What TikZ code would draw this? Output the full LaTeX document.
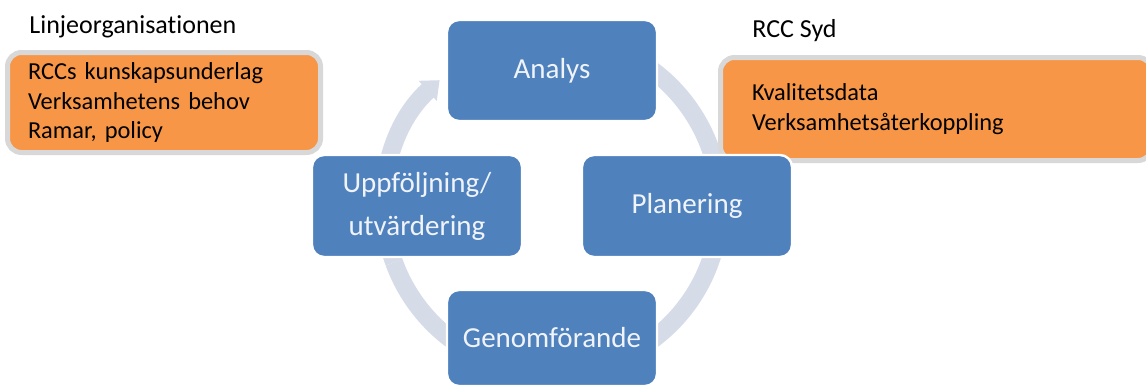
\documentclass[tikz,border=0pt]{standalone}
\usepackage{fontspec}
\setmainfont{Carlito}[Ligatures={NoCommon}]
\usetikzlibrary{arrows.meta}
\definecolor{boxblue}{RGB}{79,129,189}
\definecolor{boxorange}{RGB}{247,150,70}
\definecolor{ringgrey}{RGB}{214,219,232}
\definecolor{halogrey}{RGB}{216,216,216}
\definecolor{bluetext}{RGB}{240,244,250}
\frenchspacing
\begin{document}
\begin{tikzpicture}[x=0.5pt,y=0.5pt,
  phase/.style={draw=white, line width=1.2pt, fill=boxblue, rounded corners=6pt,
    text=bluetext, font=\fontsize{14.5}{21.5}\selectfont, align=center,
    minimum width=105pt, inner sep=0pt},
  infobox/.style={draw=halogrey, line width=2.5pt, fill=boxorange, rounded corners=7pt,
    align=left, inner ysep=0pt},
  header/.style={anchor=base west, font=\fontsize{13}{15}\selectfont, inner sep=0pt},
  ring/.style={draw=ringgrey, line width=9pt}]
\useasboundingbox (0,0) rectangle (1146,-387);
\fill[white] (0,0) rectangle (1146,-387);
\coordinate (c) at (552,-205);
% ring
\draw[ring, -{Triangle[width=13pt,length=8pt]}] ([shift={(200:84pt)}]c) arc[start angle=200, end angle=132, radius=84pt];
\draw[ring] ([shift={(125:84pt)}]c) arc[start angle=125, end angle=-160, radius=84pt];
% orange boxes
\node[infobox, text width=136pt, inner xsep=10.25pt, minimum height=50pt,
  font=\fontsize{12.2}{14.6}\selectfont\frenchspacing] (linje) at (164,-102.5)
  {RCCs kunskapsunderlag\\Verksamhetens behov\\Ramar, policy};
\node[infobox, text width=184.25pt, inner xsep=15.75pt, minimum height=51.5pt,
  font=\fontsize{12.2}{15}\selectfont] (rcc) at (936.25,-109)
  {Kvalitetsdata\\Verksamhetsåterkoppling};
% phases
\node[phase, minimum height=50.5pt] (analys) at (552,-70.5) {Analys};
\node[phase, minimum height=51pt] (uppf) at (417,-206) {Uppföljning/\\utvärdering};
\node[phase, minimum height=51pt] (plan) at (687,-206) {Planering};
\node[phase, minimum height=48pt] (genom) at (552,-338) {Genomförande};
% headers
\node[header] (linjeh) at (29,-33) {Linjeorganisationen};
\node[header] (rcch) at (752,-37) {RCC Syd};
\end{tikzpicture}
\end{document}
